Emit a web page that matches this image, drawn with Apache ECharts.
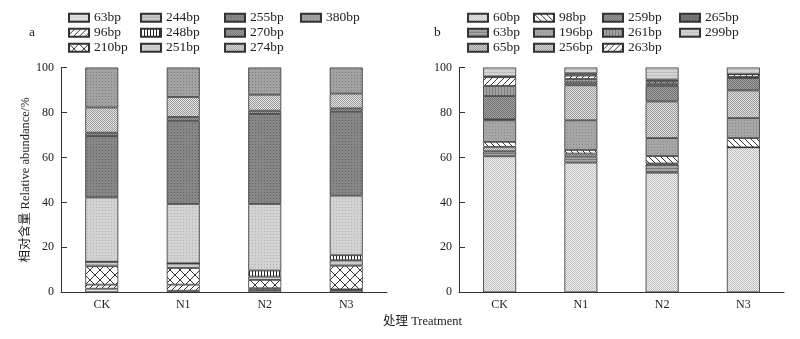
<!DOCTYPE html>
<html>
<head>
<meta charset="utf-8">
<script src="https://cdn.jsdelivr.net/npm/echarts@6/dist/echarts.min.js"></script>
<style>html,body{margin:0;padding:0;background:#fff}#c{width:800px;height:339px}</style>
</head>
<body>
<div id="c"></div>
<script>
// ---------- data ----------
const categories = ['CK', 'N1', 'N2', 'N3'];
const yTicks = [0, 20, 40, 60, 80, 100];

// chart a (left)
const namesA = ['63bp', '96bp', '210bp', '244bp', '248bp', '251bp', '255bp', '270bp', '274bp', '380bp'];
const a_63bp  = [1.6, 0.7, 1.0, 1.0];
const a_96bp  = [1.8, 2.7, 0.8, 0.3];
const a_210bp = [8.2, 7.4, 3.7, 10.5];
const a_244bp = [2.0, 2.1, 1.5, 2.5];
const a_248bp = [0, 0, 2.7, 2.2];
const a_251bp = [28.6, 26.4, 29.6, 26.5];
const a_255bp = [27.3, 37.0, 40.0, 37.3];
const a_270bp = [1.5, 1.7, 1.5, 1.5];
const a_274bp = [11.2, 8.9, 7.1, 6.6];
const a_380bp = [17.8, 13.1, 12.1, 11.6];
const valuesA = [a_63bp, a_96bp, a_210bp, a_244bp, a_248bp, a_251bp, a_255bp, a_270bp, a_274bp, a_380bp];

// chart b (right)
const namesB = ['60bp', '63bp', '65bp', '98bp', '196bp', '256bp', '259bp', '261bp', '263bp', '265bp', '299bp'];
const b_60bp  = [60.5, 57.7, 53.2, 64.5];
const b_63bp  = [2.2, 2.7, 3.6, 0];
const b_65bp  = [2.0, 1.3, 0.5, 0];
const b_98bp  = [2.2, 1.6, 3.3, 4.1];
const b_196bp = [9.6, 13.2, 8.0, 8.9];
const b_256bp = [0.5, 15.6, 16.3, 12.3];
const b_259bp = [10.3, 1.2, 7.0, 5.5];
const b_261bp = [4.5, 1.6, 0.9, 0.5];
const b_263bp = [3.9, 1.5, 0.9, 1.2];
const b_265bp = [0.3, 1.0, 0.9, 0];
const b_299bp = [4.0, 2.6, 5.4, 3.0];
const valuesB = [b_60bp, b_63bp, b_65bp, b_98bp, b_196bp, b_256bp, b_259bp, b_261bp, b_263bp, b_265bp, b_299bp];

// ---------- patterns ----------
function pat(kind, fg, bg) {
  const c = document.createElement('canvas');
  let w = 4, h = 4;
  if (kind === 'dots') { w = 3; h = 3; }
  if (kind === 'checker') { w = 2; h = 2; }
  if (kind === 'hlines') { w = 4; h = 3; }
  if (kind === 'vlines') { w = 3; h = 4; }
  if (kind === 'fslash' || kind === 'bslash') { w = 6; h = 6; }
  if (kind === 'cross') { w = 10; h = 10; }
  c.width = w; c.height = h;
  const g = c.getContext('2d');
  g.fillStyle = bg; g.fillRect(0, 0, w, h);
  g.fillStyle = fg; g.strokeStyle = fg;
  if (kind === 'dots') g.fillRect(0, 0, 1, 1);
  else if (kind === 'checker') { g.fillRect(0, 0, 1, 1); g.fillRect(1, 1, 1, 1); }
  else if (kind === 'hlines') g.fillRect(0, 0, w, 1);
  else if (kind === 'vlines') g.fillRect(0, 0, 1, h);
  else if (kind === 'fslash') {
    g.lineWidth = 1;
    g.beginPath(); g.moveTo(-1, h + 1); g.lineTo(w + 1, -1); g.stroke();
    g.beginPath(); g.moveTo(-1, 1); g.lineTo(1, -1); g.stroke();
    g.beginPath(); g.moveTo(w - 1, h + 1); g.lineTo(w + 1, h - 1); g.stroke();
  } else if (kind === 'bslash') {
    g.lineWidth = 1;
    g.beginPath(); g.moveTo(-1, -1); g.lineTo(w + 1, h + 1); g.stroke();
    g.beginPath(); g.moveTo(w - 1, -1); g.lineTo(w + 1, 1); g.stroke();
    g.beginPath(); g.moveTo(-1, h - 1); g.lineTo(1, h + 1); g.stroke();
  } else if (kind === 'cross') {
    g.lineWidth = 1;
    g.beginPath(); g.moveTo(0, 0); g.lineTo(w, h); g.stroke();
    g.beginPath(); g.moveTo(w, 0); g.lineTo(0, h); g.stroke();
  }
  return { image: c, repeat: 'repeat' };
}

const styleA = [
  pat('hlines', '#c4c4c4', '#e4e4e4'),   // 63bp
  pat('fslash', '#333333', '#ffffff'),   // 96bp
  pat('cross', '#333333', '#ffffff'),    // 210bp
  pat('hlines', '#a8a8a8', '#cbcbcb'),   // 244bp
  pat('vlines', '#222222', '#ffffff'),   // 248bp
  pat('dots', '#b4b4b4', '#d2d2d2'),     // 251bp
  pat('dots', '#666666', '#878787'),     // 255bp
  pat('checker', '#6e6e6e', '#a8a8a8'),  // 270bp
  pat('checker', '#999999', '#e6e6e6'),  // 274bp
  pat('dots', '#7e7e7e', '#a2a2a2')      // 380bp
];
const styleB = [
  pat('checker', '#bdbdbd', '#f2f2f2'),  // 60bp
  pat('hlines', '#777777', '#a6a6a6'),   // 63bp
  pat('checker', '#8e8e8e', '#dddddd'),  // 65bp
  pat('bslash', '#333333', '#ffffff'),   // 98bp
  pat('dots', '#8a8a8a', '#a6a6a6'),     // 196bp
  pat('checker', '#9a9a9a', '#e2e2e2'),  // 256bp
  pat('checker', '#6e6e6e', '#a4a4a4'),  // 259bp
  pat('vlines', '#7e7e7e', '#a2a2a2'),   // 261bp
  pat('fslash', '#333333', '#ffffff'),   // 263bp
  pat('dots', '#555555', '#767676'),     // 265bp
  pat('hlines', '#bcbcbc', '#d4d4d4')    // 299bp
];

// ---------- options ----------
const FONT = "'Liberation Serif', 'Times New Roman', 'Noto Sans CJK SC', serif";
const series = [];
namesA.forEach((n, i) => series.push({
  name: n, type: 'bar', stack: 'a', xAxisIndex: 0, yAxisIndex: 0,
  barWidth: 33, data: valuesA[i],
  itemStyle: { color: styleA[i], borderColor: '#333', borderWidth: 0.8 },
  emphasis: { disabled: true }
}));
namesB.forEach((n, i) => series.push({
  name: 'b-' + n, type: 'bar', stack: 'b', xAxisIndex: 1, yAxisIndex: 1,
  barWidth: 33, data: valuesB[i],
  itemStyle: { color: styleB[i], borderColor: '#333', borderWidth: 0.8 },
  emphasis: { disabled: true }
}));

function legend(left, names, prefix) {
  return {
    orient: 'vertical', left: left, top: 11, padding: 0, itemGap: 1.5,
    itemWidth: 20, itemHeight: 8, selectedMode: false, icon: 'rect',
    data: names.map(n => prefix + n),
    formatter: s => s.slice(prefix.length),
    textStyle: { fontFamily: FONT, fontSize: 13.5, color: '#222' }
  };
}

const axisLabel = { fontFamily: FONT, fontSize: 12, color: '#222' };
function yAxis(idx, withName) {
  const o = {
    type: 'value', gridIndex: idx, min: yTicks[0], max: yTicks[yTicks.length - 1], interval: 20,
    axisLine: { show: true, lineStyle: { color: '#333', width: 1 } },
    axisTick: { show: true, inside: true, length: 6, lineStyle: { color: '#333' } },
    splitLine: { show: false },
    axisLabel: Object.assign({ margin: 7 }, axisLabel)
  };
  if (withName) {
    o.name = '相对含量 Relative abundance/%';
    o.nameLocation = 'middle';
    o.nameGap = 26;
    o.nameTextStyle = { fontFamily: FONT, fontSize: 12.5, color: '#222' };
  }
  return o;
}
function xAxis(idx) {
  return {
    type: 'category', gridIndex: idx, data: categories,
    axisLine: { show: true, lineStyle: { color: '#333', width: 1 } },
    axisTick: { show: false },
    axisLabel: Object.assign({ margin: 7 }, axisLabel)
  };
}

const option = {
  animation: false,
  backgroundColor: '#fff',
  grid: [
    { left: 61, right: 413, top: 67.5, bottom: 46.7 },
    { left: 459, right: 16, top: 67.5, bottom: 46.7 }
  ],
  xAxis: [xAxis(0), xAxis(1)],
  yAxis: [yAxis(0, true), yAxis(1, false)],
  legend: [
    legend(68, namesA.slice(0, 3), ''),
    legend(140, namesA.slice(3, 6), ''),
    legend(224, namesA.slice(6, 9), ''),
    legend(300, namesA.slice(9), ''),
    legend(467, namesB.slice(0, 3), 'b-'),
    legend(533, namesB.slice(3, 6), 'b-'),
    legend(602, namesB.slice(6, 9), 'b-'),
    legend(679, namesB.slice(9), 'b-')
  ],
  graphic: [
    { type: 'text', left: 29, top: 26, style: { text: 'a', font: "13.5px " + FONT, fill: '#222' } },
    { type: 'text', left: 434, top: 26, style: { text: 'b', font: "13.5px " + FONT, fill: '#222' } },
    { type: 'text', left: 383, top: 315, style: { text: '处理 Treatment', font: "12.5px " + FONT, fill: '#222' } }
  ],
  series: series
};

const chart = echarts.init(document.getElementById('c'), null, { renderer: 'canvas' });
chart.setOption(option);
</script>
</body>
</html>
